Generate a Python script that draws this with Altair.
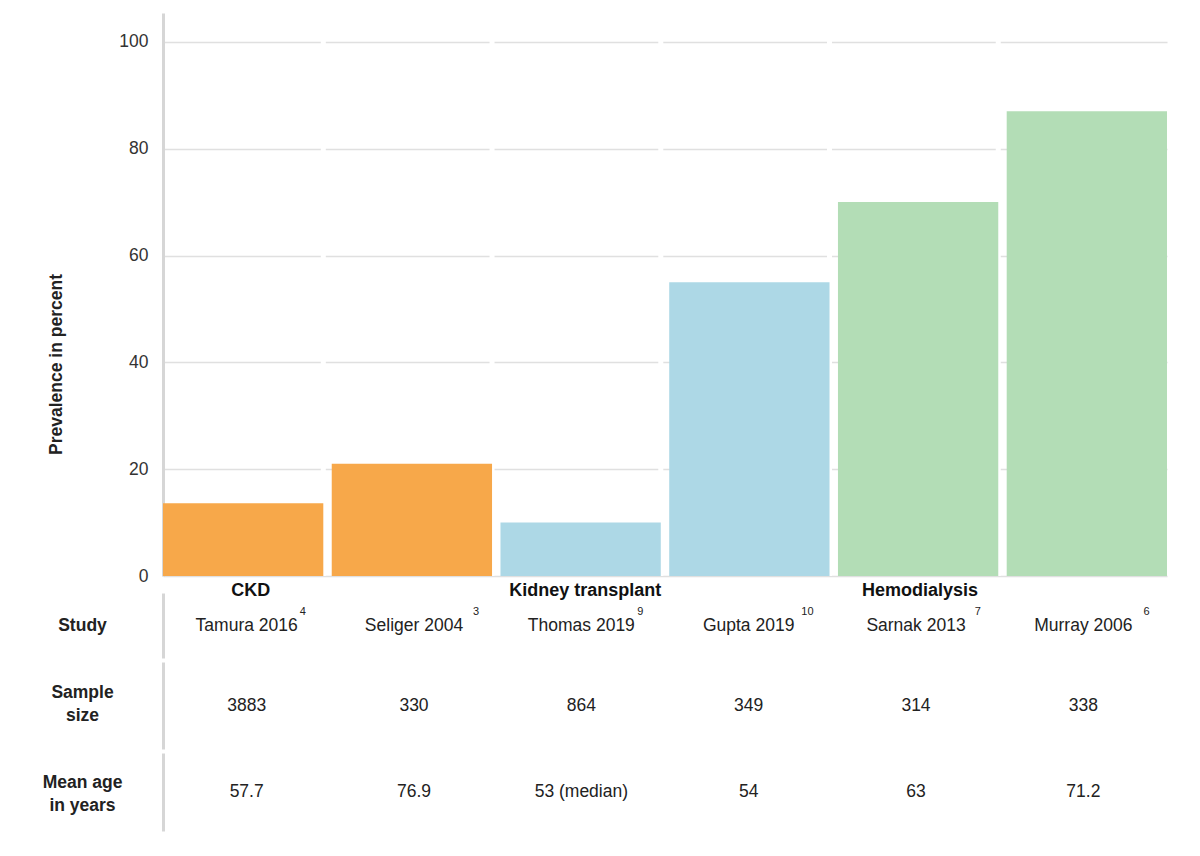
import altair as alt
import pandas as pd

studies = ["Tamura 2016", "Seliger 2004", "Thomas 2019", "Gupta 2019", "Sarnak 2013", "Murray 2006"]
refs = ["4", "3", "9", "10", "7", "6"]
groups = ["CKD", "CKD", "Kidney transplant", "Kidney transplant", "Hemodialysis", "Hemodialysis"]
prevalence = [13.6, 21.0, 10.0, 55.0, 70.0, 87.0]
sample_size = ["3883", "330", "864", "349", "314", "338"]
mean_age = ["57.7", "76.9", "53 (median)", "54", "63", "71.2"]
group_names = ["CKD", "Kidney transplant", "Hemodialysis"]
group_first = ["Tamura 2016", "Thomas 2019", "Sarnak 2013"]
group_colors = ["#F7A84A", "#ADD8E6", "#B3DDB6"]
y_ticks = [0, 20, 40, 60, 80, 100]
row_labels = ["Study", "Sample|size", "Mean age|in years"]

FONT = "Liberation Sans"
TXT = "#222222"
W = 1004
YMAX = 105.4

df = pd.DataFrame({
    "study": studies, "ref": refs, "group": groups, "prevalence": prevalence,
    "n": sample_size, "age": mean_age, "idx": list(range(len(studies))),
})
gdf = pd.DataFrame({"group": group_names, "first": group_first})


def xs():
    return alt.Scale(domain=studies, paddingInner=0.05, paddingOuter=0)


# ---- bar panel ----
yaxis = alt.Axis(
    values=y_ticks, title="Prevalence in percent", grid=True, gridColor="#E0E0E0",
    gridWidth=1.5, domain=True, domainColor="#D6D6D6", domainWidth=3, ticks=False,
    tickSize=0, labelPadding=15, labelFontSize=17.5, labelColor="#333333",
    titleFontSize=17.5, titleFontWeight="bold", titleColor=TXT, titleAngle=270,
    titleX=-98, titleY=351, titleBaseline="bottom", titleAlign="center",
)

gaps = alt.Chart(df.iloc[:-1]).mark_rule(color="white", strokeWidth=5).encode(
    x=alt.X("study:N", scale=xs(), bandPosition=1, axis=None),
    y=alt.datum(0),
    y2=alt.datum(YMAX),
)

bars = alt.Chart(df).mark_bar().encode(
    x=alt.X("study:N", scale=xs(), axis=None),
    y=alt.Y("prevalence:Q", scale=alt.Scale(domain=[0, YMAX], nice=False), axis=yaxis),
    color=alt.Color("group:N", scale=alt.Scale(domain=group_names, range=group_colors), legend=None),
)

top = alt.layer(gaps, bars).properties(width=W, height=563)

# ---- group labels panel ----
glabels = alt.Chart(gdf).mark_text(
    fontSize=18, fontWeight="bold", color="#111111", dx=4, dy=6, baseline="middle"
).encode(
    x=alt.X("first:N", scale=xs(), bandPosition=1, axis=None),
    text="group:N",
).properties(width=W, height=9)


# ---- table rows ----
def row_axis(offset):
    return alt.Axis(
        domain=True, domainColor="#D6D6D6", domainWidth=3, ticks=False, tickSize=0,
        labelPadding=81, labelAlign="center", labelBaseline="middle",
        labelFontWeight="bold", labelFontSize=17.5, labelColor=TXT,
        labelExpr="split(datum.label, '|')", labelLineHeight=23, labelLimit=0,
        labelOffset=offset, grid=False, title=None,
    )


def row_y(offset):
    return alt.Y("row:N", axis=row_axis(offset), scale=alt.Scale(paddingInner=0, paddingOuter=0))


def row_panel(label, field, offset):
    base = alt.Chart(df).transform_calculate(row="'" + label + "'")
    txt = base.mark_text(fontSize=17.5, color=TXT).encode(
        x=alt.X("study:N", scale=xs(), axis=None),
        y=row_y(offset),
        text=field + ":N",
    )
    return base, txt


base1, names = row_panel(row_labels[0], "study", 0)
sup = base1.transform_calculate(
    sx="datum.idx + 0.475 + (length(datum.study) * 4.6 + 6) / 168.74"
).mark_text(fontSize=11, color=TXT, align="left", dy=-14).encode(
    x=alt.X("sx:Q", scale=alt.Scale(domain=[0, 5.95], nice=False, zero=False), axis=None),
    y=row_y(0),
    text="ref:N",
)
row1 = alt.layer(names, sup).resolve_scale(x="independent").properties(width=W, height=65)

_, t2 = row_panel(row_labels[1], "n", -13)
row2 = t2.properties(width=W, height=87)
_, t3 = row_panel(row_labels[2], "age", -10)
row3 = t3.properties(width=W, height=78)

chart = alt.vconcat(top, glabels, row1, row2, row3, spacing=4, bounds="flush").properties(
    padding={"left": 34, "top": 2, "right": 5, "bottom": 5},
    background="white",
).configure(font=FONT).configure_view(stroke=None)

chart.save("out.html", embed_options={"renderer": "svg", "actions": False})
